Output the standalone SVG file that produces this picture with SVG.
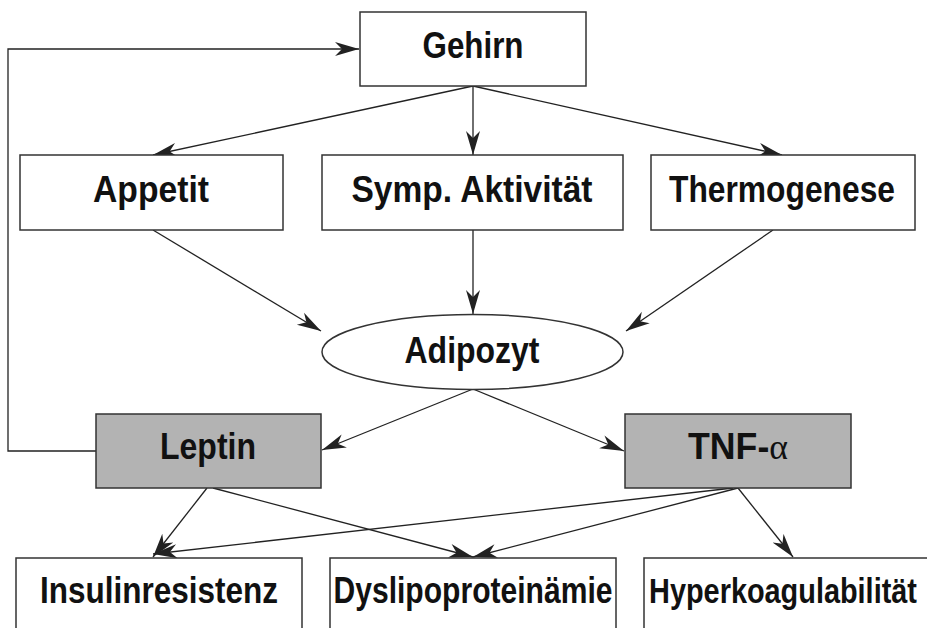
<svg xmlns="http://www.w3.org/2000/svg" width="927" height="628" viewBox="0 0 927 628">
<style>
.box{fill:#fff;stroke:#333;stroke-width:1.5}
.grey{fill:#b3b3b3;stroke:#333;stroke-width:1.5}
.t{font-family:"Liberation Sans",Arial,sans-serif;font-weight:bold;font-size:36px;fill:#111;text-anchor:middle}
.c{fill:none;stroke:#222;stroke-width:1.3}
</style>
<defs>
<marker id="ah" markerUnits="userSpaceOnUse" markerWidth="26" markerHeight="16" refX="24" refY="8" orient="auto">
<path d="M0,1 L24,8 L0,15 L7,8 z" fill="#222"/>
</marker>
</defs>
<rect width="927" height="628" fill="#fff"/>
<g id="connectors">
<polyline class="c" points="96,451 8,451 8,49 359,49" marker-end="url(#ah)"/>
<line class="c" x1="473" y1="86" x2="153" y2="155" marker-end="url(#ah)"/>
<line class="c" x1="473" y1="86" x2="473" y2="155" marker-end="url(#ah)"/>
<line class="c" x1="473" y1="86" x2="782" y2="155" marker-end="url(#ah)"/>
<line class="c" x1="153" y1="230" x2="321" y2="331" marker-end="url(#ah)"/>
<line class="c" x1="473" y1="230" x2="473" y2="314" marker-end="url(#ah)"/>
<line class="c" x1="773" y1="230" x2="626" y2="331" marker-end="url(#ah)"/>
<line class="c" x1="473" y1="389" x2="322" y2="450" marker-end="url(#ah)"/>
<line class="c" x1="473" y1="389" x2="624" y2="451" marker-end="url(#ah)"/>
<line class="c" x1="207" y1="488" x2="153" y2="557" marker-end="url(#ah)"/>
<line class="c" x1="213" y1="488" x2="473" y2="557" marker-end="url(#ah)"/>
<line class="c" x1="733" y1="488" x2="153" y2="554" marker-end="url(#ah)"/>
<line class="c" x1="738" y1="488" x2="473" y2="557" marker-end="url(#ah)"/>
<line class="c" x1="738" y1="488" x2="793" y2="557" marker-end="url(#ah)"/>
</g>
<g id="gehirn"><rect class="box" x="360" y="12" width="226" height="74"/><text class="t" x="473" y="58" textLength="101" lengthAdjust="spacingAndGlyphs">Gehirn</text></g>
<g id="appetit"><rect class="box" x="20" y="155" width="263" height="75"/><text class="t" x="151" y="202" textLength="116" lengthAdjust="spacingAndGlyphs">Appetit</text></g>
<g id="symp"><rect class="box" x="322" y="155" width="301" height="75"/><text class="t" x="472" y="202" textLength="241" lengthAdjust="spacingAndGlyphs">Symp. Aktivität</text></g>
<g id="thermogenese"><rect class="box" x="651" y="155" width="264" height="75"/><text class="t" x="782" y="202" textLength="226" lengthAdjust="spacingAndGlyphs">Thermogenese</text></g>
<g id="adipozyt"><ellipse class="box" cx="472.5" cy="352" rx="150.5" ry="37.5"/><text class="t" x="472" y="363" textLength="135" lengthAdjust="spacingAndGlyphs">Adipozyt</text></g>
<g id="leptin"><rect class="grey" x="96" y="414" width="225" height="74"/><text class="t" x="208" y="459" textLength="96" lengthAdjust="spacingAndGlyphs">Leptin</text></g>
<g id="tnf"><rect class="grey" x="625" y="414" width="226" height="74"/><text class="t" x="738" y="459" textLength="100" lengthAdjust="spacingAndGlyphs">TNF-<tspan font-family="'Liberation Serif',serif" font-weight="normal">α</tspan></text></g>
<g id="insulin"><rect class="box" x="16" y="558" width="286" height="72"/><text class="t" x="159" y="603" textLength="238" lengthAdjust="spacingAndGlyphs">Insulinresistenz</text></g>
<g id="dyslipo"><rect class="box" x="330" y="558" width="286" height="72"/><text class="t" x="473" y="603" textLength="279" lengthAdjust="spacingAndGlyphs">Dyslipoproteinämie</text></g>
<g id="hyper"><rect class="box" x="644" y="558" width="285" height="72"/><text class="t" transform="translate(783,603) scale(0.875,1.08)" x="0" y="0" style="font-size:33px">Hyperkoagulabilität</text></g>
</svg>
